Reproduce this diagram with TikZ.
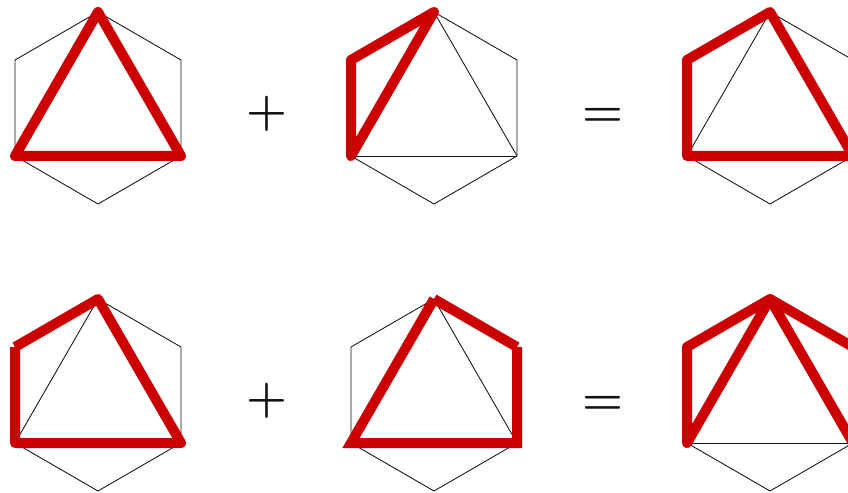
\documentclass[tikz,border=0pt]{standalone}
\usepackage{tikz}
\usetikzlibrary{calc}
\definecolor{HexRed}{HTML}{CC0000}
\definecolor{HexInk}{HTML}{111111}
\tikzset{
  hexline/.style={draw=HexInk, line width=0.85pt},
  redloop/.style={draw=HexRed, line width=10bp, line join=round, line cap=round},
  redbutt/.style={draw=HexRed, line width=10bp, line join=round},
  redmiter/.style={draw=HexRed, line width=10bp},
  opsign/.style={font=\fontsize{47}{50}\selectfont\bfseries, inner sep=0pt, text=HexInk}
}
% corners of one hexagon: name, centre x, centre y
\newcommand{\hexcorners}[3]{%
  \coordinate (#1-t)  at ($(#2,#3)+(0,-96)$);
  \coordinate (#1-ur) at ($(#2,#3)+(83,-48)$);
  \coordinate (#1-lr) at ($(#2,#3)+(83,48)$);
  \coordinate (#1-b)  at ($(#2,#3)+(0,96)$);
  \coordinate (#1-ll) at ($(#2,#3)+(-83,48)$);
  \coordinate (#1-ul) at ($(#2,#3)+(-83,-48)$);
  \draw[hexline] (#1-t) -- (#1-ur) -- (#1-lr) -- (#1-b) -- (#1-ll) -- (#1-ul) -- cycle;
}

\begin{document}
\begin{tikzpicture}[x=1bp, y=-1bp]
\useasboundingbox (0,0) rectangle (848,493);

% top row
\hexcorners{ha}{98}{108}
\hexcorners{hb}{434}{108}
\hexcorners{hc}{770}{108}
\draw[hexline] (hb-t) -- (hb-lr);
\draw[hexline] (hb-ll) -- (hb-lr);
\draw[hexline] (hc-ll) -- (hc-t);
\draw[redloop] (ha-t) -- (ha-lr) -- (ha-ll) -- cycle;
\draw[redloop] (hb-t) -- (hb-ul) -- (hb-ll) -- cycle;
\draw[redloop] (hc-ul) -- (hc-t) -- (hc-lr) -- (hc-ll) -- cycle;
\node[opsign] (plusA) at (267,114) {+};
\node[opsign, yshift=-4bp] (eqA) at (603,113) {=};

% bottom row
\hexcorners{hd}{98}{395}
\hexcorners{he}{434}{395}
\hexcorners{hf}{770}{395}
\draw[hexline] (hd-ll) -- (hd-t);
\draw[hexline] (he-t) -- (he-lr);
\draw[hexline] (hf-ll) -- (hf-lr);
\draw[redbutt] (hd-ul) -- (hd-t) -- (hd-lr) -- (hd-ll) -- (hd-ul);
\draw[redmiter] (he-t) -- (he-ur);
\draw[redmiter] (he-ur) -- (he-lr) -- (he-ll) -- (he-t);
\draw[redloop] (hf-ll) -- (hf-ul) -- (hf-t) -- (hf-ur) -- (hf-lr) -- (hf-t) -- cycle;
\node[opsign] (plusB) at (267,401) {+};
\node[opsign, yshift=-4bp] (eqB) at (603,401) {=};
\end{tikzpicture}
\end{document}
